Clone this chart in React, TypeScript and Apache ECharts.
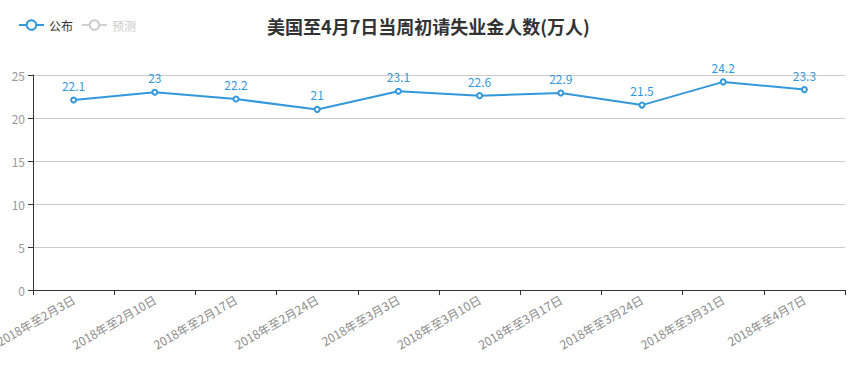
import React, { useEffect, useRef } from "react";
import * as echarts from "echarts";

const categories = [
  "2018年至2月3日",
  "2018年至2月10日",
  "2018年至2月17日",
  "2018年至2月24日",
  "2018年至3月3日",
  "2018年至3月10日",
  "2018年至3月17日",
  "2018年至3月24日",
  "2018年至3月31日",
  "2018年至4月7日",
];
const published = [22.1, 23, 22.2, 21, 23.1, 22.6, 22.9, 21.5, 24.2, 23.3];
const forecast: (number | null)[] = [];

export default function App() {
  const ref = useRef<HTMLDivElement>(null);
  useEffect(() => {
    const chart = echarts.init(ref.current!, null, { renderer: "svg" });
    chart.setOption({
      animation: false,
      textStyle: { fontFamily: "'Noto Sans CJK SC', sans-serif" },
      title: {
        text: "美国至4月7日当周初请失业金人数(万人)",
        left: "center",
        top: 12,
        textStyle: { fontSize: 18, fontWeight: "bold", color: "#333" },
      },
      legend: {
        left: 13,
        top: 14,
        itemWidth: 25,
        itemHeight: 12,
        itemGap: 8,
        textStyle: { fontSize: 12, color: "#333" },
        inactiveColor: "#ccc",
        data: ["公布", "预测"],
        selected: { 公布: true, 预测: false },
      },
      grid: { left: 33, right: 12, top: 75, bottom: 88, outerBoundsMode: "none", containLabel: false },
      xAxis: {
        type: "category",
        data: categories,
        boundaryGap: true,
        axisLine: { lineStyle: { color: "#333" } },
        axisTick: { show: true, lineStyle: { color: "#333" } },
        axisLabel: { rotate: 30, color: "#8c8c8c", fontSize: 12, interval: 0, margin: 8 },
      },
      yAxis: {
        type: "value",
        min: 0,
        max: 25,
        interval: 5,
        axisLine: { show: true, lineStyle: { color: "#333" } },
        axisTick: { show: true, lineStyle: { color: "#333" } },
        axisLabel: { color: "#999", fontSize: 12 },
        splitLine: { lineStyle: { color: "#ccc" } },
      },
      series: [
        {
          name: "公布",
          type: "line",
          data: published,
          symbol: "emptyCircle",
          symbolSize: 5,
          itemStyle: { color: "#3398DB" },
          lineStyle: { color: "#3398DB", width: 2 },
          label: { show: true, position: "top", color: "#3398DB", fontSize: 12 },
        },
        {
          name: "预测",
          type: "line",
          data: forecast,
          symbol: "emptyCircle",
          itemStyle: { color: "#aaa" },
        },
      ],
    });
    return () => chart.dispose();
  }, []);
  return (
    <div
      ref={ref}
      style={{ position: "absolute", left: 0, top: 0, width: 857, height: 378 }}
    />
  );
}
